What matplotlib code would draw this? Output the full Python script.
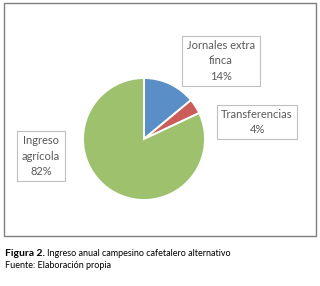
import matplotlib
matplotlib.use("Agg")
import matplotlib.pyplot as plt
from matplotlib.patches import Rectangle

categories = ["Jornales extra\nfinca", "Transferencias", "Ingreso\nagrícola"]
values = [14, 4, 82]
colors = ["#5A8EC6", "#CC5C57", "#9DC16D"]

W, H = 320, 286
fig = plt.figure(figsize=(W / 100, H / 100), dpi=100)

fam = ["Liberation Sans Narrow", "DejaVu Sans Condensed", "Lato", "DejaVu Sans"]

def px(x, y):
    return x / W, 1 - y / H

# outer frame
fig.patches.append(Rectangle(px(4, 236), 312 / W, 233 / H, transform=fig.transFigure,
                             fill=False, edgecolor="#7f7f7f", lw=1.0))

cx, cy, r = 144, 139, 61
ax = fig.add_axes([(cx - r) / W, 1 - (cy + r) / H, 2 * r / W, 2 * r / H])
ax.pie(values, colors=colors, startangle=90, counterclock=False, radius=1,
       wedgeprops=dict(edgecolor="white", linewidth=1.4))
ax.set_xlim(-1, 1)
ax.set_ylim(-1, 1)
ax.set_aspect("equal")
ax.axis("off")

label_pos = [(221, 61), (257, 122), (41, 156)]
for cat, v, (x, y) in zip(categories, values, label_pos):
    fig.text(*px(x, y), f"{cat}\n{v}%", ha="center", va="center", fontsize=8,
             family=fam, color="#595959", linespacing=1.45,
             bbox=dict(boxstyle="square,pad=0.4", fc="white", ec="#BFBFBF", lw=0.8))

t1 = fig.text(*px(5, 253), "Figura 2.", ha="left", va="center", fontsize=7.5,
              family=fam, weight="bold", color="black")
fig.canvas.draw()
bb = t1.get_window_extent(renderer=fig.canvas.get_renderer())
x2 = bb.x1 / (W) + 2 / W
fig.text(x2, 1 - 253 / H, "Ingreso anual campesino cafetalero alternativo", ha="left",
         va="center", fontsize=6.5, family=fam, color="black")
fig.text(*px(5, 266), "Fuente: Elaboración propia", ha="left", va="center",
         fontsize=6.5, family=fam, color="black")

fig.savefig("out.png", dpi=100)
